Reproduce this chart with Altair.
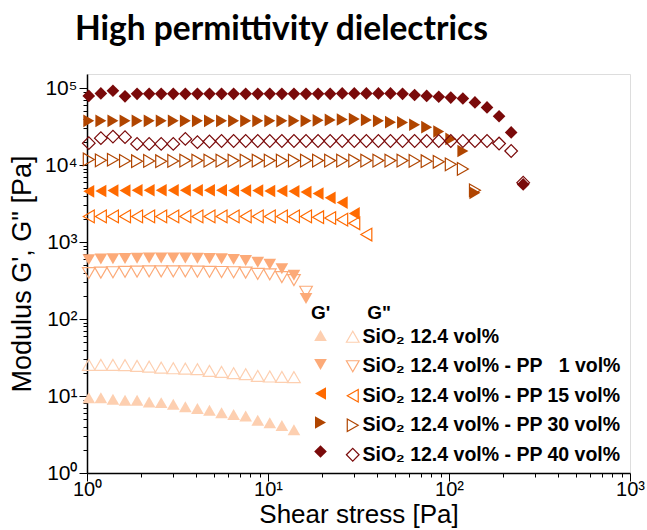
import altair as alt
import pandas as pd

# shared stress grid (Pa), ~15 points per decade
x_grid = [1.023, 1.193, 1.391, 1.622, 1.891, 2.205, 2.570, 2.997, 3.494, 4.074,
          4.750, 5.538, 6.457, 7.528, 8.777, 10.23, 11.93, 13.91, 16.22, 18.91,
          22.05, 25.70, 29.97, 34.94, 40.74, 47.50, 55.38, 64.57, 75.28, 87.77,
          102.3, 119.3, 139.1, 162.2, 189.1, 220.5, 257.0]

series_names = [
    "SiO\u2082 12.4 vol%",
    "SiO\u2082 12.4 vol% - PP\u00a0\u00a0\u00a01 vol%",
    "SiO\u2082 12.4 vol% - PP 15 vol%",
    "SiO\u2082 12.4 vol% - PP 30 vol%",
    "SiO\u2082 12.4 vol% - PP 40 vol%",
]
colors = ["#FDCFB0", "#FCAA78", "#FF6A00", "#B04500", "#7A0A0A"]
shapes = ["triangle-up", "triangle-down", "triangle-left", "triangle-right", "diamond"]

sio2_gp = [9.5, 9.5, 9.05, 8.8, 8.8, 8.35, 8.2, 7.8, 7.25, 6.9, 6.55, 6.05, 5.75,
           5.5, 4.85, 4.5, 4.15, 3.65]
sio2_gpp = [25.4, 25.4, 25.4, 25.2, 24.6, 24.1, 23.4, 22.9, 22.7, 22.3, 21.2, 20.6,
            19.8, 19.2, 18.2, 17.9, 17.7, 17.6]

pp1_gp = [590, 600, 605, 610, 615, 620, 620, 620, 620, 615, 610, 605, 595, 575,
          545, 515, 450, 370, 185]
pp1_gpp = [395, 400, 405, 410, 412, 415, 415, 415, 415, 412, 410, 408, 405, 400,
           385, 380, 350, 320, 226]

pp15_gp = [4550, 4600, 4650, 4650, 4700, 4700, 4700, 4700, 4700, 4700, 4700, 4700,
           4650, 4650, 4650, 4600, 4600, 4550, 4450, 4250, 3750, 3250, 2350]
pp15_gpp = [2150, 2150, 2150, 2150, 2150, 2150, 2150, 2150, 2150, 2150, 2150, 2150,
            2150, 2150, 2150, 2150, 2150, 2150, 2150, 2100, 2050, 1950, 1750, 1250]

pp30_gp = [37500, 37500, 37500, 37500, 37500, 37500, 37500, 37500, 37500, 37500,
           37500, 37500, 37500, 37500, 37500, 37500, 37500, 37500, 37500, 38000,
           38500, 39000, 39500, 38500, 37500, 36000, 35700, 33300, 31000, 27200,
           21800, 15200, 4350]
pp30_gpp = [11800, 11500, 11700, 11300, 11200, 11300, 11200, 11300, 11400, 11400,
            11400, 11400, 11400, 11400, 11400, 11400, 11400, 11400, 11400, 11400,
            11400, 11400, 11400, 11400, 11400, 11400, 11400, 11300, 11200, 11000,
            10200, 8900, 4700]

pp40_gp = [79000, 85000, 92000, 78000, 84000, 84000, 84000, 84000, 84000, 84000,
           84000, 84000, 84000, 84000, 84000, 84000, 84000, 84000, 84000, 84000,
           84000, 85000, 85000, 85000, 85000, 85000, 84000, 81000, 79000, 77000,
           75000, 73000, 65000, 56000, 43000, 26500, 5600]
pp40_gpp = [19200, 22300, 23400, 23000, 18800, 18800, 18800, 18800, 21800, 19800,
            20200, 20500, 20500, 20500, 20500, 20500, 20500, 20500, 20500, 20500,
            20500, 20500, 20500, 20500, 20500, 20500, 20500, 20500, 20500, 20500,
            20500, 20500, 20500, 20500, 19000, 15200, 5900]

gp_lists = [sio2_gp, pp1_gp, pp15_gp, pp30_gp, pp40_gp]
gpp_lists = [sio2_gpp, pp1_gpp, pp15_gpp, pp30_gpp, pp40_gpp]

x_major = [1, 10, 100, 1000]
y_major = [1, 10, 100, 1000, 10000, 100000]
minor_mult = [2, 3, 4, 5, 6, 7, 8, 9]
x_ticks = x_major + [m * d for d in [1, 10, 100] for m in minor_mult]
y_ticks = y_major + [m * d for d in [1, 10, 100, 1000, 10000] for m in minor_mult]

rows = []
for name, gp, gpp in zip(series_names, gp_lists, gpp_lists):
    for xv, yv in zip(x_grid, gp):
        rows.append({"x": xv, "y": yv, "series": name, "mod": "Gp"})
    for xv, yv in zip(x_grid, gpp):
        rows.append({"x": xv, "y": yv, "series": name, "mod": "Gpp"})
df = pd.DataFrame(rows)

FONT = "Liberation Sans"
sup = {"0": "\u2070", "1": "\u00b9", "2": "\u00b2", "3": "\u00b3", "4": "\u2074", "5": "\u2075"}


def label_expr(majors):
    parts = []
    for i, v in enumerate(majors):
        parts.append(f"datum.value == {v} ? '10{sup[str(i)]}'")
    return " : ".join(parts) + " : ''"


def tick_cond(majors):
    return {"condition": {"test": f"indexof({majors}, datum.value) >= 0", "value": 8},
            "value": 4}


x_enc = alt.X(
    "x:Q",
    scale=alt.Scale(type="log", domain=[1, 1000], nice=False),
    axis=alt.Axis(
        values=x_ticks, labelExpr=label_expr(x_major), tickSize=tick_cond(x_major),
        grid=False, tickColor="black", domainColor="black", domainWidth=1.5,
        tickWidth=1, labelFont=FONT, labelFontSize=20, labelColor="black",
        labelOverlap=False, labelFlush=False, labelPadding=-2,
        title="Shear stress [Pa]", titleFont=FONT, titleFontSize=26,
        titleFontWeight="normal", titleColor="black", titlePadding=2,
    ),
)
y_enc = alt.Y(
    "y:Q",
    scale=alt.Scale(type="log", domain=[1, 152000], nice=False),
    axis=alt.Axis(
        values=y_ticks, labelExpr=label_expr(y_major), tickSize=tick_cond(y_major),
        grid=False, tickColor="black", domainColor="black", domainWidth=1.5,
        tickWidth=1, labelFont=FONT, labelFontSize=21, labelColor="black",
        labelOverlap=False, labelFlush=False, labelPadding=2,
        title="Modulus G', G\" [Pa]", titleFont=FONT, titleFontSize=27,
        titleFontWeight="normal", titleColor="black", titlePadding=8,
    ),
)

shape_scale = alt.Scale(domain=series_names, range=shapes)
color_scale = alt.Scale(domain=series_names, range=colors)

nb = "\u00a0"
legA = alt.Legend(
    title=nb + "G'" + nb * 7 + 'G"', orient="none", legendX=224, legendY=230,
    labelExpr="''", symbolSize=160, symbolStrokeWidth=0, symbolOpacity=1,
    titleFont=FONT, titleFontSize=19, titleFontWeight="bold", titleColor="black",
    titlePadding=3, labelFontSize=19, rowPadding=9,
)
legB = alt.Legend(
    title=None, orient="none", legendX=256, legendY=253,
    symbolSize=160, symbolStrokeWidth=1.2, symbolOpacity=1,
    labelFont=FONT, labelFontSize=19.5, labelFontWeight="bold", labelColor="black",
    labelLimit=400, labelOffset=0, rowPadding=8.5,
)

base = alt.Chart(df)
gp_layer = base.transform_filter(alt.datum.mod == "Gp").mark_point(
    filled=True, size=160, opacity=1, strokeWidth=0
).encode(
    x=x_enc, y=y_enc,
    shape=alt.Shape("series:N", scale=shape_scale, legend=legA),
    fill=alt.Fill("series:N", scale=color_scale, legend=legA),
)
gpp_layer = base.transform_filter(alt.datum.mod == "Gpp").mark_point(
    filled=False, size=160, opacity=1, strokeWidth=1.2
).encode(
    x=x_enc, y=y_enc,
    shape=alt.Shape("series:N", scale=shape_scale, legend=legB),
    stroke=alt.Stroke("series:N", scale=color_scale, legend=legB),
)

chart = alt.layer(gp_layer, gpp_layer).resolve_scale(
    shape="independent"
).resolve_legend(
    shape="independent", fill="independent", stroke="independent"
).properties(
    width=543, height=399,
    autosize=alt.AutoSizeParams(type="none"),
    padding={"left": 87, "top": 74, "right": 17, "bottom": 57},
    title=alt.TitleParams(
        "High permittivity dielectrics", font="Lato", fontSize=33.5, fontWeight="bold",
        anchor="start", frame="group", dx=-12, offset=1, baseline="alphabetic",
        color="black",
    ),
).configure_view(stroke="#333", strokeWidth=1.5).configure(background="white")

chart.save("out.html", embed_options={"renderer": "svg", "actions": False})
